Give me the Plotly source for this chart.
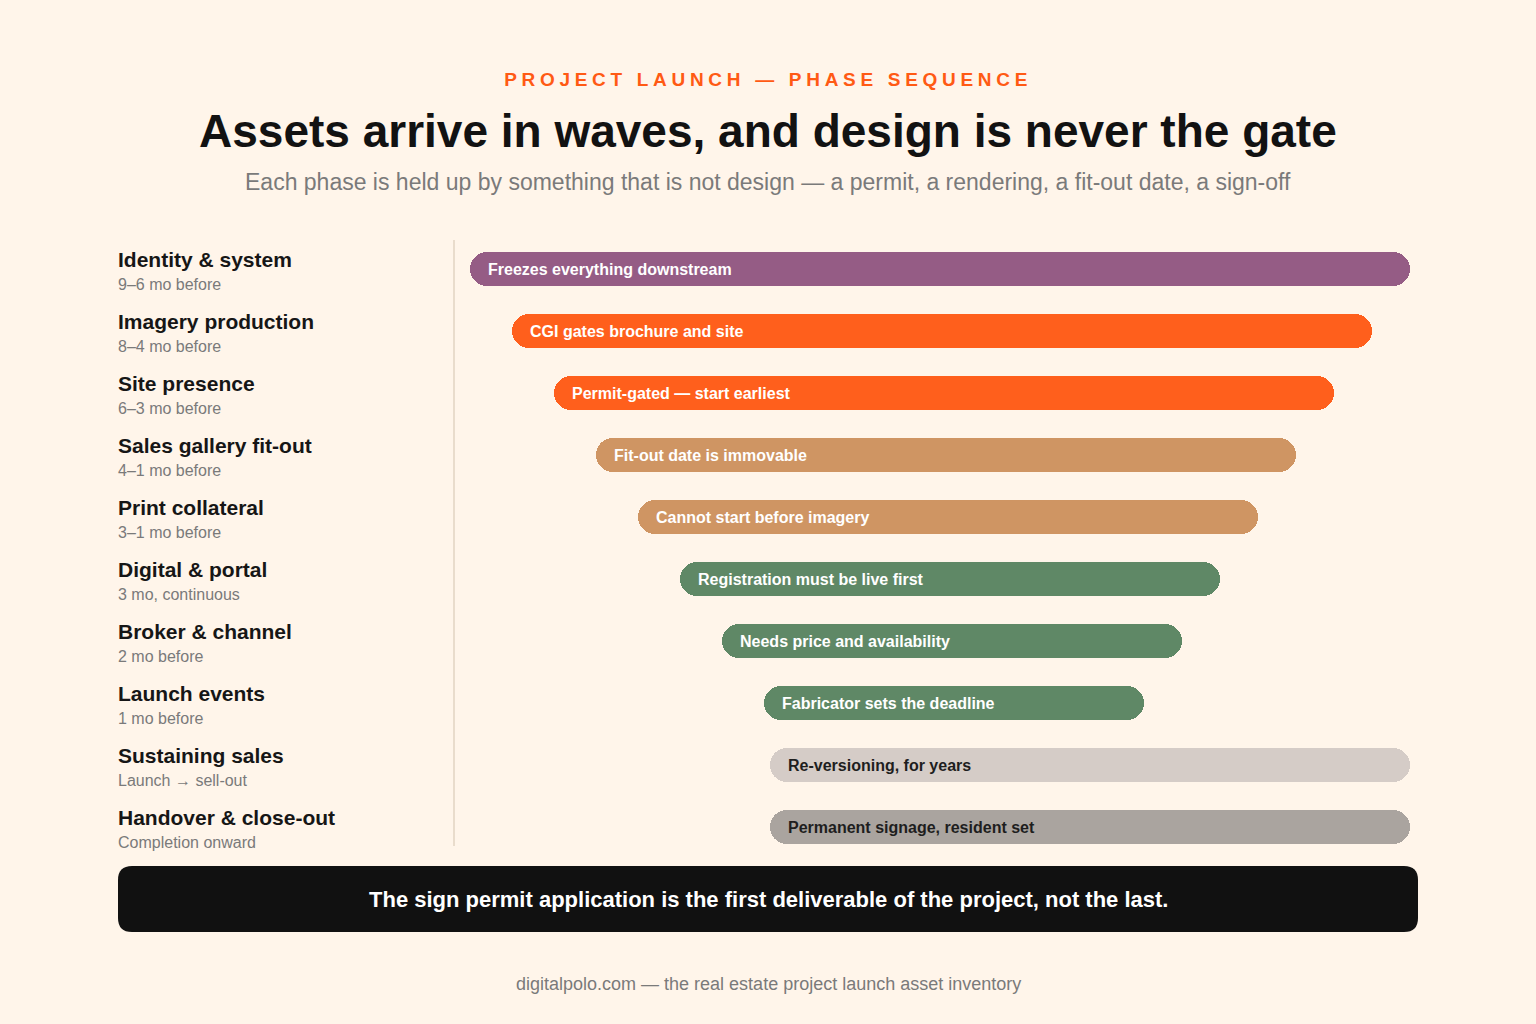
import plotly.graph_objects as go

# ---------------- data ----------------
phases = ["Identity & system", "Imagery production", "Site presence", "Sales gallery fit-out",
          "Print collateral", "Digital & portal", "Broker & channel", "Launch events",
          "Sustaining sales", "Handover & close-out"]
timing = ["9–6 mo before", "8–4 mo before", "6–3 mo before", "4–1 mo before", "3–1 mo before",
          "3 mo, continuous", "2 mo before", "1 mo before", "Launch → sell-out", "Completion onward"]
# position on a 0–100 timeline (start of first phase = 0, end of runway = 100)
start = [0.0, 4.47, 8.94, 13.40, 17.87, 22.34, 26.81, 31.28, 31.91, 31.91]
end = [100.0, 95.96, 91.91, 87.87, 83.83, 79.79, 75.74, 71.70, 100.0, 100.0]
notes = ["Freezes everything downstream", "CGI gates brochure and site", "Permit-gated — start earliest",
         "Fit-out date is immovable", "Cannot start before imagery", "Registration must be live first",
         "Needs price and availability", "Fabricator sets the deadline", "Re-versioning, for years",
         "Permanent signage, resident set"]
bar_colors = ["#955c85", "#ff5f1c", "#ff5f1c", "#cf9563", "#cf9563", "#5f8866", "#5f8866", "#5f8866",
              "#d5ccc7", "#aaa49f"]
note_colors = ["#ffffff"] * 8 + ["#1e1e1e", "#1e1e1e"]

W, H = 1536, 1024
BG = "#fff5ea"
FONT = "Liberation Sans, Arial, Helvetica, sans-serif"

rows = list(range(len(phases)))

fig = go.Figure()
fig.add_trace(go.Bar(
    y=rows, x=[e - s for s, e in zip(start, end)], base=start, orientation="h",
    width=34 / 62, marker=dict(color=bar_colors, cornerradius=17, line=dict(width=0)),
    hoverinfo="skip", showlegend=False,
))

NOPAD = dict(borderpad=0, borderwidth=0, showarrow=False)

annotations = []
for i in rows:
    annotations.append(dict(x=start[i], y=i, xref="x", yref="y", text=notes[i],
                            xanchor="left", yanchor="middle", xshift=18,
                            font=dict(family=FONT, size=16, color=note_colors[i], weight="bold"), **NOPAD))
    annotations.append(dict(x=118 / W, y=i, xref="paper", yref="y", text=phases[i],
                            xanchor="left", yanchor="middle", yshift=10,
                            font=dict(family=FONT, size=21, color="#161616", weight="bold"), **NOPAD))
    annotations.append(dict(x=118 / W, y=i, xref="paper", yref="y", text=timing[i],
                            xanchor="left", yanchor="middle", yshift=-15,
                            font=dict(family=FONT, size=16, color="#7a7a7a"), **NOPAD))


def py(p):
    return 1 - p / H


annotations += [
    dict(x=0.5, y=py(79), xref="paper", yref="paper", text="PROJECT LAUNCH — PHASE SEQUENCE",
         xanchor="center", yanchor="middle",
         font=dict(family=FONT, size=19, color="#ff5a14", weight="bold"), **NOPAD),
    dict(x=0.5, y=py(131), xref="paper", yref="paper",
         text="Assets arrive in waves, and design is never the gate",
         xanchor="center", yanchor="middle",
         font=dict(family=FONT, size=46, color="#121212", weight="bold"), **NOPAD),
    dict(x=0.5, y=py(182), xref="paper", yref="paper",
         text="Each phase is held up by something that is not design — a permit, a rendering, a fit-out date, a sign-off",
         xanchor="center", yanchor="middle",
         font=dict(family=FONT, size=23, color="#7a7a7a"), **NOPAD),
    dict(x=768 / W, y=py(899), xref="paper", yref="paper",
         text="The sign permit application is the first deliverable of the project, not the last.",
         xanchor="center", yanchor="middle",
         font=dict(family=FONT, size=22, color="#ffffff", weight="bold"), **NOPAD),
    dict(x=0.5, y=py(984), xref="paper", yref="paper",
         text="digitalpolo.com — the real estate project launch asset inventory",
         xanchor="center", yanchor="middle",
         font=dict(family=FONT, size=18, color="#7a7a7a"), **NOPAD),
]


def rrect(x0, y0, x1, y1, r):
    X = lambda p: p / W
    Y = lambda p: 1 - p / H
    return (f"M{X(x0 + r)},{Y(y0)} L{X(x1 - r)},{Y(y0)} Q{X(x1)},{Y(y0)} {X(x1)},{Y(y0 + r)} "
            f"L{X(x1)},{Y(y1 - r)} Q{X(x1)},{Y(y1)} {X(x1 - r)},{Y(y1)} "
            f"L{X(x0 + r)},{Y(y1)} Q{X(x0)},{Y(y1)} {X(x0)},{Y(y1 - r)} "
            f"L{X(x0)},{Y(y0 + r)} Q{X(x0)},{Y(y0)} {X(x0 + r)},{Y(y0)} Z")


shapes = [
    dict(type="line", xref="paper", yref="paper", x0=454 / W, x1=454 / W, y0=py(240), y1=py(846),
         line=dict(color="#e9dccc", width=2), layer="below"),
    dict(type="path", xref="paper", yref="paper", path=rrect(118, 866, 1418, 932, 14),
         fillcolor="#111111", line=dict(width=0), layer="below"),
]

# timeline 0 -> px 470, 100 -> px 1410
px_per = (1410 - 470) / 100
x_range = [-470 / px_per, (W - 470) / px_per]
# row i centre -> px 269 + 62 i
y_range = [(H - 269) / 62, -269 / 62]

fig.update_layout(
    width=W, height=H, autosize=False,
    margin=dict(l=0, r=0, t=0, b=0, pad=0),
    paper_bgcolor=BG, plot_bgcolor=BG,
    xaxis=dict(range=x_range, visible=False, fixedrange=True),
    yaxis=dict(range=y_range, visible=False, fixedrange=True),
    annotations=annotations, shapes=shapes, bargap=0,
)

post = """
document.body.style.margin='0';
document.body.style.background='#fff5ea';
var gd = document.getElementById('{plot_id}');
gd.querySelectorAll('text').forEach(function(t){
  if (t.textContent.indexOf('PROJECT LAUNCH') === 0) { t.setAttribute('letter-spacing', '4.7px'); }
});
"""
fig.write_html("out.html", post_script=post, config={"displayModeBar": False, "staticPlot": True})
